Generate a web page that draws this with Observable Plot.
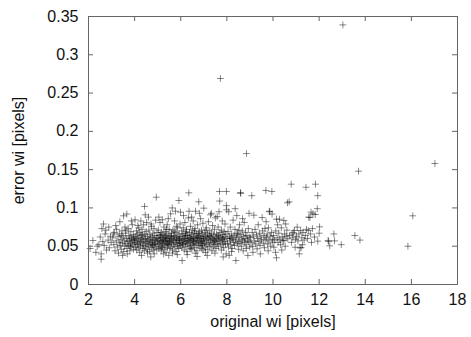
<!DOCTYPE html>
<html><head><meta charset="utf-8">
<script src="https://cdn.jsdelivr.net/npm/d3@7"></script>
<script src="https://cdn.jsdelivr.net/npm/@observablehq/plot@0.6"></script>
<style>body{margin:0;background:#fff}</style>
</head><body><div id="chart"></div>
<script>
const xTicks = [2, 4, 6, 8, 10, 12, 14, 16, 18];
const yTicks = [0, 0.05, 0.1, 0.15, 0.2, 0.25, 0.3, 0.35];
const xLabel = "original wi [pixels]";
const yLabel = "error wi [pixels]";

const bin2 = [[2.07,.047],[2.19,.0575],[2.32,.042],[2.55,.040],[2.55,.033],[2.65,.079],[2.58,.073],[2.72,.066],[2.51,.062],[2.45,.052],[2.62,.056],[2.75,.071],[2.85,.058],[2.9,.048],[2.78,.045],[2.95,.063],[2.88,.075],[2.38,.050],[2.68,.051],[2.98,.055]];
const bin3 = [[3.05,.061],[3.1,.052],[3.12,.068],[3.15,.044],[3.2,.057],[3.22,.072],[3.25,.049],[3.28,.063],[3.3,.041],[3.33,.055],[3.35,.066],[3.38,.051],[3.4,.059],[3.42,.046],[3.45,.070],[3.47,.054],[3.5,.062],[3.52,.0897],[3.53,.043],[3.55,.057],[3.57,.050],[3.6,.067],[3.62,.053],[3.64,.060],[3.66,.092],[3.67,.047],[3.7,.056],[3.72,.073],[3.74,.051],[3.75,.064],[3.77,.058],[3.79,.044],[3.8,.062],[3.82,.054],[3.84,.069],[3.85,.049],[3.87,.060],[3.89,.057],[3.9,.078],[3.92,.052],[3.94,.065],[3.95,.046],[3.97,.059],[3.99,.055],[3.18,.077],[3.36,.082],[3.58,.075],[3.48,.038],[3.68,.040],[3.86,.083],[3.08,.066],[3.44,.064],[3.63,.071],[3.81,.05],[3.96,.062]];
const bin4 = [[4.01,.058],[4.02,.0845],[4.03,.049],[4.05,.063],[4.06,.054],[4.08,.070],[4.09,.045],[4.1,.060],[4.12,.052],[4.13,.066],[4.15,.057],[4.16,.048],[4.18,.074],[4.19,.061],[4.2,.053],[4.22,.042],[4.23,.068],[4.25,.056],[4.26,.050],[4.28,.064],[4.29,.059],[4.3,.038],[4.32,.072],[4.33,.055],[4.35,.047],[4.36,.062],[4.38,.051],[4.39,.078],[4.4,.058],[4.42,.044],[4.43,.102],[4.44,.066],[4.45,.053],[4.47,.060],[4.48,.049],[4.5,.069],[4.51,.056],[4.52,.081],[4.54,.046],[4.55,.063],[4.57,.054],[4.58,.059],[4.6,.088],[4.61,.050],[4.62,.071],[4.64,.057],[4.65,.043],[4.66,.065],[4.68,.052],[4.69,.061],[4.7,.036],[4.72,.055],[4.73,.076],[4.74,.048],[4.76,.062],[4.77,.057],[4.79,.067],[4.8,.051],[4.81,.045],[4.83,.059],[4.84,.073],[4.86,.054],[4.87,.064],[4.88,.049],[4.9,.058],[4.91,.084],[4.92,.053],[4.94,.114],[4.95,.061],[4.96,.046],[4.97,.068],[4.99,.056],[4.27,.083],[4.46,.091],[4.71,.079],[4.85,.040],[4.14,.077],[4.56,.041],[4.33,.065],[4.78,.052]];
const bin5 = [[5.01,.060],[5.02,.052],[5.03,.071],[5.05,.047],[5.06,.058],[5.07,.064],[5.09,.054],[5.1,.081],[5.11,.050],[5.12,.062],[5.14,.057],[5.15,.044],[5.16,.068],[5.18,.055],[5.19,.061],[5.2,.0845],[5.21,.049],[5.23,.066],[5.24,.053],[5.25,.059],[5.27,.075],[5.28,.046],[5.29,.063],[5.31,.056],[5.32,.051],[5.33,.069],[5.35,.058],[5.36,.042],[5.37,.064],[5.39,.053],[5.4,.060],[5.41,.078],[5.43,.048],[5.44,.057],[5.45,.066],[5.47,.052],[5.48,.038],[5.49,.061],[5.5,.072],[5.52,.055],[5.53,.047],[5.54,.063],[5.56,.0923],[5.57,.058],[5.58,.050],[5.6,.067],[5.61,.054],[5.62,.060],[5.63,.100],[5.65,.045],[5.66,.071],[5.67,.057],[5.69,.052],[5.7,.064],[5.71,.059],[5.73,.083],[5.74,.049],[5.75,.062],[5.77,.0957],[5.78,.055],[5.79,.068],[5.8,.043],[5.82,.058],[5.83,.061],[5.84,.053],[5.86,.074],[5.87,.050],[5.88,.063],[5.9,.057],[5.91,.047],[5.92,.1097],[5.93,.066],[5.95,.054],[5.96,.060],[5.97,.079],[5.99,.0945],[5.98,.051],[5.05,.088],[5.26,.040],[5.38,.072],[5.46,.086],[5.64,.041],[5.85,.039],[5.13,.065],[5.34,.061],[5.51,.056],[5.72,.069],[5.94,.058],[5.22,.057],[5.42,.053],[5.59,.063],[5.81,.076],[5.17,.048]];
const bin6 = [[6.01,.062],[6.02,.055],[6.04,.070],[6.05,.048],[6.06,.0313],[6.07,.059],[6.09,.066],[6.1,.052],[6.11,.074],[6.13,.057],[6.14,.063],[6.15,.045],[6.17,.060],[6.18,.081],[6.19,.054],[6.21,.067],[6.22,.050],[6.23,.058],[6.25,.072],[6.26,.056],[6.27,.043],[6.29,.064],[6.3,.053],[6.31,.061],[6.33,.087],[6.34,.057],[6.35,.1197],[6.36,.0957],[6.37,.049],[6.38,.068],[6.4,.055],[6.41,.062],[6.42,.076],[6.44,.051],[6.45,.059],[6.46,.065],[6.48,.046],[6.49,.058],[6.5,.071],[6.52,.054],[6.53,.063],[6.54,.083],[6.56,.052],[6.57,.060],[6.58,.067],[6.6,.048],[6.61,.056],[6.62,.073],[6.64,.0957],[6.65,.061],[6.66,.053],[6.68,.066],[6.69,.058],[6.7,.044],[6.71,.0366],[6.72,.062],[6.73,.078],[6.75,.055],[6.76,.051],[6.78,.108],[6.79,.064],[6.8,.057],[6.82,.069],[6.83,.049],[6.84,.060],[6.86,.086],[6.87,.054],[6.88,.063],[6.9,.071],[6.91,.047],[6.92,.059],[6.94,.066],[6.95,.053],[6.96,.080],[6.98,.057],[6.99,.062],[6.12,.090],[6.28,.039],[6.47,.088],[6.63,.041],[6.81,.093],[6.97,.045],[6.2,.064],[6.39,.060],[6.55,.057],[6.74,.061],[6.89,.056],[6.08,.053],[6.24,.069],[6.43,.047],[6.59,.070],[6.77,.067],[6.93,.051]];
const bin7 = [[7.0,.0997],[7.01,.060],[7.03,.054],[7.04,.068],[7.06,.049],[7.07,.042],[7.08,.063],[7.1,.057],[7.11,.074],[7.13,.052],[7.14,.061],[7.16,.066],[7.17,.046],[7.19,.059],[7.2,.082],[7.22,.055],[7.23,.064],[7.25,.050],[7.26,.070],[7.28,.058],[7.29,.091],[7.31,.053],[7.32,.062],[7.34,.067],[7.35,.044],[7.37,.060],[7.38,.077],[7.4,.055],[7.41,.049],[7.43,.065],[7.44,.058],[7.46,.072],[7.47,.052],[7.49,.061],[7.5,.087],[7.52,.056],[7.53,.047],[7.55,.066],[7.56,.059],[7.58,.0888],[7.59,.053],[7.61,.063],[7.62,.075],[7.64,.050],[7.65,.060],[7.67,.057],[7.68,.1215],[7.69,.109],[7.7,.068],[7.72,.269],[7.73,.054],[7.74,.062],[7.76,.045],[7.77,.071],[7.79,.058],[7.8,.083],[7.82,.052],[7.83,.065],[7.85,.059],[7.86,.048],[7.88,.069],[7.89,.056],[7.91,.062],[7.92,.079],[7.94,.053],[7.95,.066],[7.97,.040],[7.98,.1215],[7.98,.103],[7.99,.0975],[7.15,.038],[7.33,.093],[7.48,.041],[7.66,.095],[7.84,.036],[7.09,.071],[7.27,.063],[7.45,.057],[7.63,.064],[7.81,.061]];
const bin8 = [[8.01,.060],[8.03,.054],[8.05,.069],[8.07,.049],[8.1,.038],[8.11,.063],[8.13,.057],[8.15,.075],[8.17,.052],[8.19,.061],[8.21,.066],[8.23,.047],[8.25,.059],[8.27,.084],[8.29,.055],[8.31,.064],[8.33,.051],[8.35,.072],[8.37,.058],[8.39,.0313],[8.41,.062],[8.43,.090],[8.45,.053],[8.47,.067],[8.49,.056],[8.51,.046],[8.53,.061],[8.55,.078],[8.57,.054],[8.59,.12],[8.6,.119],[8.61,.065],[8.63,.050],[8.65,.059],[8.67,.070],[8.69,.057],[8.71,.044],[8.73,.063],[8.75,.081],[8.77,.055],[8.79,.060],[8.81,.068],[8.83,.052],[8.85,.171],[8.87,.064],[8.89,.058],[8.91,.038],[8.93,.073],[8.95,.056],[8.97,.062],[8.99,.049],[8.08,.095],[8.2,.043],[8.36,.099],[8.52,.071],[8.68,.086],[8.84,.047],[8.96,.093],[8.44,.066],[8.14,.060]];
const bin9 = [[9.02,.061],[9.05,.055],[9.08,.116],[9.1,.068],[9.12,.050],[9.15,.063],[9.17,.0905],[9.19,.057],[9.22,.072],[9.25,.053],[9.28,.065],[9.31,.0466],[9.33,.060],[9.36,.078],[9.39,.056],[9.41,.067],[9.44,.051],[9.47,.062],[9.5,.058],[9.53,.0875],[9.55,.070],[9.58,.054],[9.61,.064],[9.63,.048],[9.66,.059],[9.69,.1228],[9.7,.082],[9.72,.061],[9.75,.066],[9.77,.053],[9.8,.074],[9.82,.057],[9.84,.0957],[9.86,.095],[9.88,.063],[9.9,.050],[9.93,.068],[9.95,.1215],[9.96,.092],[9.97,.059],[9.99,.055],[9.13,.042],[9.45,.040],[9.65,.073],[9.79,.044]];
const bin10 = [[10.02,.064],[10.04,.0487],[10.07,.058],[10.11,.042],[10.12,.070],[10.15,.0853],[10.15,.0349],[10.18,.061],[10.22,.055],[10.25,.067],[10.28,.0853],[10.3,.059],[10.33,.052],[10.36,.074],[10.4,.062],[10.43,.057],[10.47,.0836],[10.47,.0575],[10.5,.066],[10.53,.050],[10.57,.063],[10.6,.071],[10.63,.1067],[10.64,.0597],[10.7,.108],[10.72,.064],[10.79,.131],[10.8,.055],[10.83,.066],[10.86,.061],[10.88,.068],[10.93,.0705],[10.96,.0487],[10.98,.059],[10.2,.078],[10.38,.045],[10.55,.079]];
const bin11 = [[11.02,.063],[11.05,.0749],[11.08,.057],[11.12,.066],[11.14,.040],[11.17,.0479],[11.2,.0705],[11.22,.048],[11.25,.061],[11.3,.068],[11.35,.058],[11.43,.127],[11.4,.064],[11.45,.072],[11.5,.060],[11.53,.0705],[11.55,.088],[11.6,.0875],[11.62,.066],[11.65,.0945],[11.71,.073],[11.73,.0923],[11.8,.062],[11.83,.0914],[11.84,.131],[11.92,.0990],[11.94,.116],[11.94,.0566],[12.0,.067],[12.02,.0753],[11.28,.052],[11.67,.055]];
const bin12up = [[12.39,.0575],[12.41,.0562],[12.46,.0505],[12.64,.066],[12.67,.0570],[12.96,.052],[13.03,.339],[13.55,.064],[13.77,.058],[13.71,.148],[15.85,.050],[16.06,.0897],[17.02,.158]];

const points = [...bin2, ...bin3, ...bin4, ...bin5, ...bin6, ...bin7, ...bin8, ...bin9, ...bin10, ...bin11, ...bin12up]
  .map(([x, y]) => ({x, y}));

const axisColor = "#666";
const chart = Plot.plot({
  width: 471, height: 337,
  marginLeft: 88, marginRight: 14, marginTop: 16, marginBottom: 53,
  style: {fontFamily: "'Liberation Sans', Arial, Helvetica, sans-serif", fontSize: "16px", color: "#111", background: "#fff"},
  x: {domain: [2, 18]},
  y: {domain: [0, 0.35]},
  marks: [
    Plot.dot(points, {x: "x", y: "y", symbol: "plus", r: 2.35, stroke: "#000", strokeWidth: 0.85, strokeOpacity: 0.55}),
    Plot.frame({stroke: axisColor}),
    Plot.ruleX(xTicks, {x: d => d, insetTop: 263, stroke: axisColor}),
    Plot.ruleX(xTicks, {x: d => d, insetBottom: 263, stroke: axisColor}),
    Plot.ruleY(yTicks, {y: d => d, insetRight: 364, stroke: axisColor}),
    Plot.ruleY(yTicks, {y: d => d, insetLeft: 364, stroke: axisColor}),
    Plot.axisX(xTicks, {tickSize: 0, tickPadding: 9, fontSize: 16, label: null}),
    Plot.axisY(yTicks, {tickSize: 0, tickPadding: 10, fontSize: 16, label: null, tickFormat: d => String(d)}),
    Plot.text([xLabel], {text: d => d, frameAnchor: "bottom", dy: 42, fontSize: 16}),
    Plot.text([yLabel], {text: d => d, frameAnchor: "left", textAnchor: "middle", dx: -70, rotate: -90, fontSize: 16})
  ]
});
document.getElementById("chart").appendChild(chart);
</script>
</body></html>
